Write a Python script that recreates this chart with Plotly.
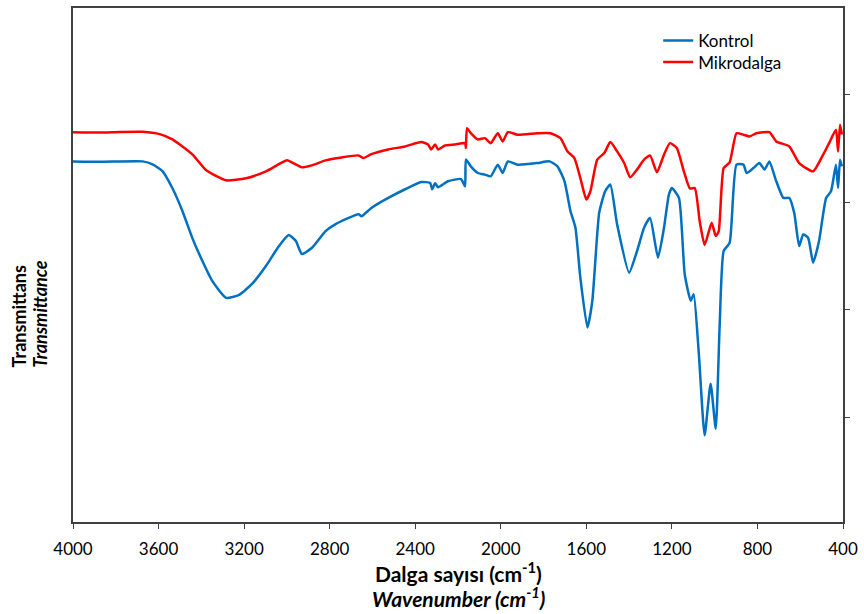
import plotly.graph_objects as go

# Wavenumber (cm-1) and transmittance (arbitrary units)
kontrol_wn = [4000, 3874, 3674, 3628, 3581, 3535, 3488, 3442, 3395, 3349, 3284, 3223, 3163, 3098,
              3037, 2991, 2958, 2930, 2884, 2819, 2772, 2665, 2651, 2605, 2526, 2447, 2372, 2330,
              2321, 2307, 2293, 2247, 2186, 2167, 2163, 2140, 2107, 2074, 2047, 2014, 1991, 1967,
              1921, 1828, 1772, 1735, 1702, 1674, 1651, 1628, 1595, 1572, 1540, 1512, 1488, 1456,
              1400, 1363, 1330, 1302, 1265, 1237, 1214, 1200, 1167, 1140, 1112, 1098, 1074, 1047,
              1019, 995, 977, 958, 930, 898, 865, 851, 819, 791, 767, 744, 712, 679, 651, 628,
              605, 586, 563, 540, 512, 479, 456, 433, 423, 414, 405]
kontrol_t = [67.59, 67.50, 67.59, 67.04, 65.74, 62.59, 58.33, 53.33, 49.07, 45.37, 42.22, 42.78,
             44.81, 48.15, 51.85, 53.89, 52.78, 50.37, 51.48, 54.63, 55.93, 57.78, 57.41, 58.94,
             60.80, 62.41, 63.76, 63.57, 62.41, 63.52, 62.78, 63.89, 64.31, 62.96, 67.96, 66.67,
             65.43, 65.13, 64.81, 66.98, 65.43, 67.59, 66.98, 67.28, 67.59, 66.67, 63.89, 58.33,
             55.24, 45.98, 36.72, 41.67, 58.02, 62.04, 63.28, 55.87, 46.91, 50.93, 55.24, 57.09,
             49.69, 55.24, 61.43, 62.65, 60.80, 46.61, 41.67, 42.91, 31.80, 16.67, 26.24, 17.91,
             36.72, 50.93, 52.46, 66.98, 66.98, 65.43, 66.35, 67.28, 66.06, 67.59, 63.89, 60.80,
             60.80, 58.02, 51.85, 54.02, 53.39, 48.76, 52.78, 60.80, 62.04, 66.98, 62.65, 67.91,
             66.67]

mikro_wn = [4000, 3874, 3781, 3674, 3595, 3535, 3442, 3377, 3284, 3191, 3098, 3000, 2977, 2930,
            2884, 2819, 2744, 2665, 2642, 2605, 2526, 2447, 2372, 2340, 2326, 2307, 2293, 2260,
            2214, 2167, 2163, 2158, 2140, 2107, 2074, 2047, 2014, 1991, 1967, 1921, 1828, 1767,
            1721, 1688, 1656, 1628, 1600, 1581, 1549, 1516, 1488, 1456, 1423, 1395, 1363, 1330,
            1302, 1270, 1237, 1209, 1177, 1144, 1116, 1093, 1070, 1047, 1014, 995, 981, 958, 930,
            898, 865, 837, 805, 744, 712, 651, 605, 540, 493, 465, 433, 423, 414, 405]
mikro_t = [73.02, 72.96, 73.06, 73.09, 72.65, 71.67, 68.89, 65.93, 64.07, 64.44, 65.74, 67.78,
           67.41, 66.48, 66.85, 67.78, 68.33, 68.70, 68.20, 68.94, 69.81, 70.37, 71.17, 70.74,
           69.81, 70.74, 69.81, 70.56, 70.74, 70.98, 70.06, 73.76, 72.83, 71.67, 71.91, 70.98,
           72.83, 71.30, 73.02, 72.54, 72.83, 72.83, 71.91, 69.44, 68.20, 64.50, 60.50, 62.04,
           67.91, 69.13, 71.17, 69.44, 67.28, 64.63, 66.06, 67.91, 68.70, 65.56, 68.83, 70.98,
           70.06, 65.74, 62.54, 62.65, 56.48, 52.04, 56.17, 53.70, 54.63, 66.35, 67.41, 72.83,
           72.54, 72.22, 72.83, 73.02, 71.30, 70.37, 67.28, 65.74, 68.83, 70.98, 73.46, 69.44,
           74.39, 72.59]

x_ticks = [4000, 3600, 3200, 2800, 2400, 2000, 1600, 1200, 800, 400]
y_ticks = [20, 40, 60, 80]

FONT = "Lato"

fig = go.Figure()
fig.add_trace(go.Scatter(x=kontrol_wn, y=kontrol_t, mode="lines", name="Kontrol", legend="legend",
                         line=dict(color="#0070C0", width=2.5, shape="spline", smoothing=0.5)))
fig.add_trace(go.Scatter(x=mikro_wn, y=mikro_t, mode="lines", name="Mikrodalga", legend="legend2",
                         line=dict(color="#FF0000", width=2.5, shape="spline", smoothing=0.5)))

legend_style = dict(xanchor="left", yanchor="middle", bgcolor="rgba(0,0,0,0)",
                    font=dict(family=FONT, size=17, color="black"), itemwidth=30)

fig.update_layout(
    width=864, height=614,
    margin=dict(l=73, r=17, t=6, b=92),
    paper_bgcolor="white", plot_bgcolor="white",
    font=dict(family=FONT, size=17, color="black"),
    showlegend=True,
    legend=dict(x=0.760, y=0.936, **legend_style),
    legend2=dict(x=0.760, y=0.894, **legend_style),
    xaxis=dict(range=[4000, 400], tickvals=x_ticks, ticktext=[str(v) for v in x_ticks],
               showgrid=False, zeroline=False, showline=True, linecolor="#404040",
               linewidth=1.5, mirror=True, ticks="outside", ticklen=5, tickcolor="#404040",
               ticklabelstandoff=6,
               tickfont=dict(family=FONT, size=17, color="black")),
    yaxis=dict(range=[0.56, 96.1], tickvals=y_ticks, showticklabels=False, side="right",
               showgrid=False, zeroline=False, showline=True, linecolor="#404040",
               linewidth=1.5, mirror=True, ticks="outside", ticklen=5, tickcolor="#404040"),
)

fig.add_annotation(text="<b>Dalga sayısı (cm<sup>-1</sup>)</b>", xref="paper", yref="paper",
                   x=0.5, y=0, yshift=-50, xanchor="center", yanchor="middle", showarrow=False,
                   font=dict(family=FONT, size=21, color="black"))
fig.add_annotation(text="<b><i>Wavenumber (cm<sup>-1</sup>)</i></b>", xref="paper", yref="paper",
                   x=0.5, y=0, yshift=-75, xanchor="center", yanchor="middle", showarrow=False,
                   font=dict(family=FONT, size=21, color="black"))
fig.add_annotation(text="<b>Transmittans</b>", xref="paper", yref="paper",
                   x=0, xshift=-54, y=0.4, textangle=-90, xanchor="center", yanchor="middle",
                   showarrow=False, font=dict(family=FONT, size=18, color="black"))
fig.add_annotation(text="<b><i>Transmittance</i></b>", xref="paper", yref="paper",
                   x=0, xshift=-33, y=0.405, textangle=-90, xanchor="center", yanchor="middle",
                   showarrow=False, font=dict(family=FONT, size=18, color="black"))

fig.write_html("out.html", config={"displayModeBar": False},
               post_script="document.body.style.margin='0px';")
